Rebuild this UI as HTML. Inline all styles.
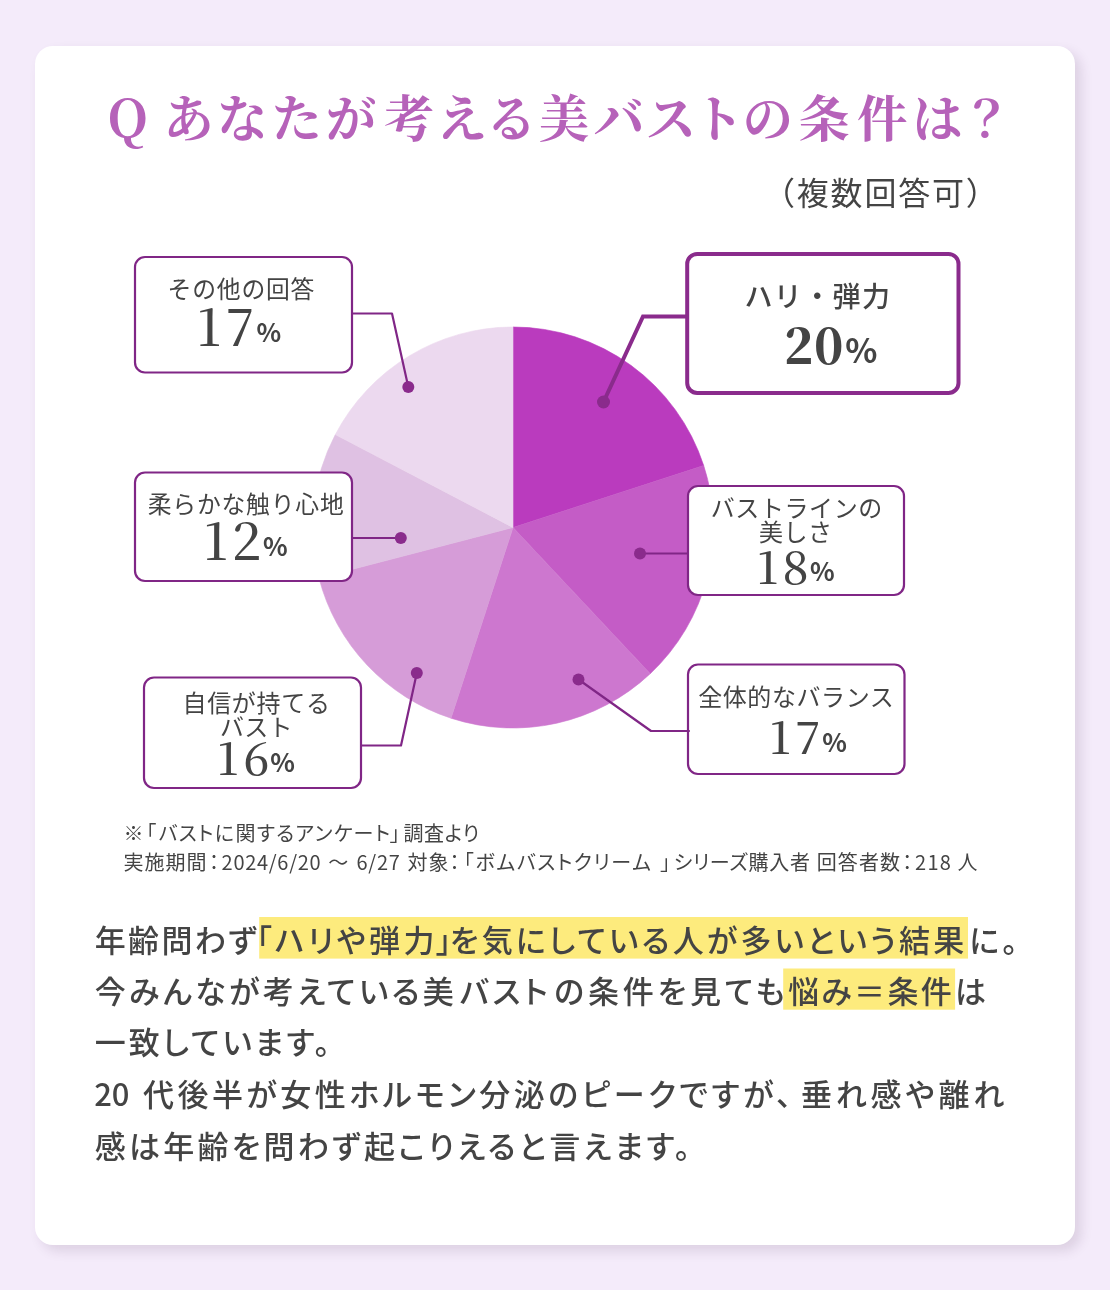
<!DOCTYPE html>
<html lang="ja">
<head>
<meta charset="utf-8">
<title>美バストの条件アンケート</title>
<style>
*{margin:0;padding:0;box-sizing:border-box}
html,body{width:1110px;height:1290px;overflow:hidden}
body{position:relative;background:#f4ebfa;font-family:"Liberation Sans","Noto Sans CJK JP",sans-serif;color:#444}
.card{position:absolute;left:35px;top:46px;width:1040px;height:1199px;background:#fff;border-radius:18px;box-shadow:6px 6px 12px rgba(60,30,70,.13)}
.abs{position:absolute;white-space:nowrap}
.sub{left:763px;top:167px;letter-spacing:1.8px;font-family:"Noto Sans CJK JP",sans-serif;font-size:32px;line-height:48px;color:#444}
svg.chart{position:absolute;left:0;top:0;width:1110px;height:1290px}
</style>
</head>
<body>
<div class="card"></div>
<div class="abs sub">（複数回答可）</div>
<svg class="chart" viewBox="0 0 1110 1290">
<g style="font-family:'Noto Serif CJK JP','Noto Serif CJK SC','Liberation Serif',serif;font-weight:700" fill="#b662b9">
<text y="136.6" font-size="50.5" x="107.6 150 163.4 216.9 271.4 325.8 384 436.4 486.3 538.8 593.9 645.8 693.3 742.4 799.1 856.9 912.2 961.5" xml:space="preserve"><tspan font-size="51.5" dy="0.4">Q</tspan><tspan dy="-0.4"> </tspan>あなたが考える美バストの条件は？</text>
</g>
<path d="M513 527.5L513.00 327.00A200.5 200.5 0 0 1 703.69 465.54Z" fill="#ba3bbe" stroke="#ba3bbe" stroke-width="0.6"/>
<path d="M513 527.5L703.69 465.54A200.5 200.5 0 0 1 650.25 673.66Z" fill="#c45cc6" stroke="#c45cc6" stroke-width="0.6"/>
<path d="M513 527.5L650.25 673.66A200.5 200.5 0 0 1 451.04 718.19Z" fill="#cd77cf" stroke="#cd77cf" stroke-width="0.6"/>
<path d="M513 527.5L451.04 718.19A200.5 200.5 0 0 1 318.97 578.04Z" fill="#d69cd8" stroke="#d69cd8" stroke-width="0.6"/>
<path d="M513 527.5L318.97 578.04A200.5 200.5 0 0 1 335.32 434.61Z" fill="#dfc1e3" stroke="#dfc1e3" stroke-width="0.6"/>
<path d="M513 527.5L335.32 434.61A200.5 200.5 0 0 1 513.00 327.00Z" fill="#ecd9ef" stroke="#ecd9ef" stroke-width="0.6"/>
<g fill="#fff" stroke="#802686" stroke-width="2.2">
<rect x="135" y="257" width="217" height="115.5" rx="10"/>
<rect x="135" y="472.5" width="217" height="108.5" rx="10"/>
<rect x="144" y="677.5" width="217" height="110.5" rx="10"/>
<rect x="688" y="486" width="216" height="109" rx="10"/>
<rect x="688" y="664.5" width="216.5" height="109.5" rx="10"/>
<rect x="687.2" y="254" width="271.3" height="138.9" rx="10" stroke-width="4" stroke="#8a2b8c"/>
</g>
<g fill="none" stroke="#802686" stroke-width="2.2" stroke-linejoin="round" stroke-linecap="round">
<polyline points="353,313.5 392,313.5 408.3,387"/>
<polyline points="353,538 400.8,538"/>
<polyline points="362,745.5 401,745.5 416.8,673"/>
<polyline points="687,553.5 640,553.5"/>
<polyline points="689,731 651,731 578.5,679.5"/>
</g>
<polyline points="686,316.5 643,316.5 603.5,402" fill="none" stroke="#8a2b8c" stroke-width="4" stroke-linejoin="miter"/>
<g fill="#8a2b8c">
<circle cx="408.3" cy="387" r="6"/>
<circle cx="400.8" cy="538" r="6"/>
<circle cx="416.8" cy="673" r="6"/>
<circle cx="640" cy="553.5" r="6"/>
<circle cx="578.5" cy="679.5" r="6"/>
<circle cx="603.5" cy="402" r="6.5"/>
</g>
<g fill="#444" style="font-family:'Noto Sans CJK JP',sans-serif;font-weight:400">
<text x="241.4" y="297.6" font-size="23.8" letter-spacing="0.8" font-weight="400" text-anchor="middle">その他の回答</text>
<text x="817.9" y="307" font-size="28" letter-spacing="1.4" font-weight="500" text-anchor="middle">ハリ・弾力</text>
<text x="246.1" y="512.8" font-size="23.8" letter-spacing="0.8" font-weight="400" text-anchor="middle">柔らかな触り心地</text>
<text x="796.8" y="517.3" font-size="24" letter-spacing="0.6" font-weight="400" text-anchor="middle">バストラインの</text>
<text x="795.75" y="540.8" font-size="24" letter-spacing="0.5" font-weight="400" text-anchor="middle">美しさ</text>
<text x="256.55" y="711.8" font-size="24" letter-spacing="0.7" font-weight="400" text-anchor="middle">自信が持てる</text>
<text x="256.45" y="736" font-size="24" letter-spacing="0.3" font-weight="400" text-anchor="middle">バスト</text>
<text x="796.3" y="706.2" font-size="24" letter-spacing="0.6" font-weight="400" text-anchor="middle">全体的なバランス</text>
</g>
<g fill="#444" style="font-family:'Noto Serif CJK JP','Noto Serif CJK SC','Liberation Serif',serif">
<text transform="scale(1.04 1)" y="346.5" x="189.29 216.81" font-size="50" font-weight="500">17</text>
<text transform="scale(1.04 1)" y="560.4" x="195.63 222.87" font-size="50" font-weight="500">12</text>
<text transform="scale(1.04 1)" y="583.8" x="727.67 752.53" font-size="44.3" font-weight="500">18</text>
<text transform="scale(1.04 1)" y="775" x="208.73 233.78" font-size="44.3" font-weight="500">16</text>
<text transform="scale(1.04 1)" y="754.5" x="739.69 764.36" font-size="44.3" font-weight="500">17</text>
<text transform="scale(1 1)" y="363.6" x="784.12 814.08" font-size="48" font-weight="900">20</text>
</g>
<g fill="#444" style="font-family:'Noto Sans CJK JP','Liberation Sans',sans-serif">
<text x="256.53" y="342.2" font-size="25.6" font-weight="700">%</text>
<text x="263.03" y="556" font-size="25.6" font-weight="700">%</text>
<text x="810.03" y="581" font-size="25.6" font-weight="700">%</text>
<text x="270.23" y="772.4" font-size="25.6" font-weight="700">%</text>
<text x="822.23" y="752.2" font-size="25.6" font-weight="700">%</text>
<text x="845.20" y="363.1" font-size="33.4" font-weight="700">%</text>
</g>
<rect x="259.2" y="917" width="708.8" height="41.6" fill="#fdeb7d"/>
<rect x="783.2" y="968.5" width="171.9" height="41.2" fill="#fdeb7d"/>
<g fill="#444" style="font-family:'Noto Sans CJK JP',sans-serif;font-weight:500;font-size:31px;font-feature-settings:'palt'">
<text y="951.9" xml:space="preserve"><tspan x="94.8" letter-spacing="2.3">年齢問わず</tspan><tspan x="256.1" letter-spacing="0.0">「</tspan><tspan x="274.9" letter-spacing="3.31">ハリや弾力</tspan><tspan x="436.2" letter-spacing="0.0">」</tspan><tspan x="449.8" letter-spacing="3.22">を気にしている人が多いという結果</tspan><tspan x="969.2" letter-spacing="3.15">に。</tspan></text>
<text y="1002.6" xml:space="preserve"><tspan x="94.8" letter-spacing="3.39">今みんなが考えている美</tspan><tspan x="459.8" letter-spacing="3.5">バスト</tspan><tspan x="554.3" letter-spacing="3.78">の条件を見ても</tspan><tspan x="788.1" letter-spacing="2.34">悩み＝条件</tspan><tspan x="955.0" letter-spacing="0.0">は</tspan></text>
<text y="1054.3" xml:space="preserve"><tspan x="94.8" letter-spacing="2.99">一致しています。</tspan></text>
<text y="1105.9" xml:space="preserve"><tspan x="94.3" letter-spacing="-0.3">20 </tspan><tspan x="142.9" letter-spacing="3.5">代後半が女性ホルモン分泌のピークですが、</tspan><tspan x="800.9" letter-spacing="3.85">垂れ感や離れ</tspan></text>
<text y="1157.6" xml:space="preserve"><tspan x="94.8" letter-spacing="3.22">感は年齢を問わず起こりえると言えます。</tspan></text>
</g>
<g fill="#444" style="font-family:'Noto Sans CJK JP',sans-serif;font-weight:400;font-size:20px;font-feature-settings:'palt'">
<text y="841.2" xml:space="preserve"><tspan x="123.6" letter-spacing="0.0">※</tspan><tspan x="146.0" letter-spacing="0.0">「</tspan><tspan x="158.5" letter-spacing="1.34">バストに関するアンケート</tspan><tspan x="390.0" letter-spacing="0.0">」 </tspan><tspan x="403.4" letter-spacing="0.67">調査より</tspan></text>
<text y="870" xml:space="preserve"><tspan x="123.4" letter-spacing="1.07">実施期間</tspan><tspan x="209.0" letter-spacing="0.0">：</tspan><tspan x="221.6" letter-spacing="0.7">2024/6/20 </tspan><tspan x="328.3" letter-spacing="0.0">～ </tspan><tspan x="356.4" letter-spacing="0.8">6/27 </tspan><tspan x="407.4" letter-spacing="1.2">対象</tspan><tspan x="449.5" letter-spacing="0.0">：</tspan><tspan x="463.6" letter-spacing="0.0">「</tspan><tspan x="475.5" letter-spacing="1.62">ボムバストクリーム </tspan><tspan x="660.4" letter-spacing="0.0">」</tspan><tspan x="673.7" letter-spacing="0.7">シリーズ購入者 </tspan><tspan x="816.8" letter-spacing="1.07">回答者数</tspan><tspan x="902.2" letter-spacing="0.0">：</tspan><tspan x="915.1" letter-spacing="1.2">218 </tspan><tspan x="957.5" letter-spacing="0.0">人</tspan></text>
</g>
</svg>

</body>
</html>
